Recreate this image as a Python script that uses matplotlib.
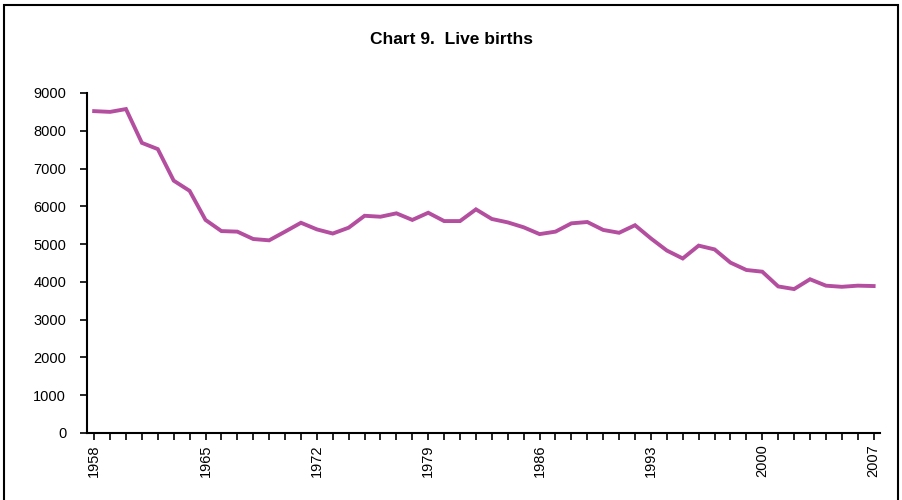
import numpy as np
import matplotlib
matplotlib.use('Agg')
import matplotlib.pyplot as plt
from matplotlib.patches import Rectangle

plt.rcParams['font.family'] = ['Liberation Sans', 'DejaVu Sans']

years = list(range(1958, 2008))
births = [8520, 8500, 8575, 7680, 7515, 6680, 6410, 5640, 5345, 5330,
          5135, 5100, 5330, 5565, 5390, 5280, 5435, 5750, 5725, 5815,
          5640, 5830, 5610, 5610, 5920, 5665, 5575, 5445, 5265, 5330,
          5550, 5585, 5375, 5300, 5500, 5150, 4830, 4620, 4960, 4860,
          4510, 4315, 4270, 3880, 3810, 4070, 3900, 3870, 3900, 3890]
label_years = [1958, 1965, 1972, 1979, 1986, 1993, 2000, 2007]

fig = plt.figure(figsize=(9.02, 5.0), dpi=100)
ax = fig.add_axes([87/902, 1-433/500, (880-87)/902, (433-93)/500])

ax.plot(years, births, color='#B44FA0', linewidth=2.8, solid_joinstyle='miter')

ax.set_xlim(1957.55, 2007.4)
ax.set_ylim(0, 9000)
ax.set_yticks(np.arange(0, 9001, 1000))
ax.set_xticks(years, minor=False)
ax.set_xticklabels([str(y) if y in label_years else '' for y in years],
                   rotation=90, fontsize=10.5)
ax.tick_params(axis='y', labelsize=10.5, direction='out', length=5, width=1.2, pad=10)
ax.tick_params(axis='x', direction='out', length=5, width=1.2, pad=3)
for side in ['top', 'right']:
    ax.spines[side].set_visible(False)
for side in ['left', 'bottom']:
    ax.spines[side].set_linewidth(1.5)

fig.text(0.5, 1-40/500, 'Chart 9.  Live births', ha='center', va='center',
         fontsize=12.5, fontweight='bold')

# figure frame
fig.patches.append(Rectangle((4/902, -0.1), (898-4)/902, 1.1-5/500,
                             transform=fig.transFigure, fill=False,
                             edgecolor='black', linewidth=1.5, clip_on=False))

fig.savefig('out.png', dpi=100)
